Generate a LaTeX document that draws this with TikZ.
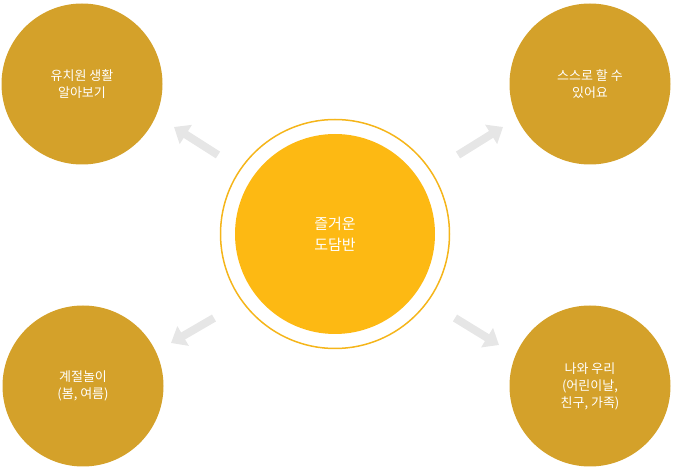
\documentclass[tikz,border=0pt]{standalone}
\usepackage{fontspec}
\newfontfamily\cjk{Noto Sans CJK KR}
\usetikzlibrary{arrows.meta}
\definecolor{gold}{HTML}{D4A12A}
\definecolor{center}{HTML}{FDB913}
\definecolor{ring}{HTML}{F5B51A}
\definecolor{arr}{HTML}{E6E6E6}
\begin{document}
\begin{tikzpicture}[x=1pt,y=-1pt,
  corner/.style={circle,fill=gold,minimum size=161pt,inner sep=0pt,text=white,font=\cjk\fontsize{13}{17}\selectfont,align=center},
  arrow/.style={draw=arr,line width=8pt,-{Triangle[length=14pt,width=22pt]}}]
\useasboundingbox (0,0) rectangle (673,470);
\node[circle,draw=ring,line width=1.5pt,minimum size=229pt,inner sep=0pt] (ring) at (335,234) {};
\node[circle,fill=center,minimum size=200pt,inner sep=0pt,text=white,font=\cjk\fontsize{15}{21}\selectfont,align=center] (c) at (335,234) {즐거운\\도담반};
\node[corner] (tl) at (82,84) {유치원 생활\\알아보기};
\node[corner] (tr) at (590,84) {스스로 할 수\\있어요};
\node[corner] (bl) at (83,386) {계절놀이\\(봄, 여름)};
\node[corner] (br) at (590,386) {나와 우리\\(어린이날,\\친구, 가족)};
\coordinate (a1) at (218,155); \coordinate (b1) at (174,127);
\coordinate (a2) at (458,155); \coordinate (b2) at (503,127);
\coordinate (a3) at (214,318); \coordinate (b3) at (171,343);
\coordinate (a4) at (455,318); \coordinate (b4) at (499,345);
\draw[arrow] (a1) -- (b1);
\draw[arrow] (a2) -- (b2);
\draw[arrow] (a3) -- (b3);
\draw[arrow] (a4) -- (b4);
\end{tikzpicture}
\end{document}
